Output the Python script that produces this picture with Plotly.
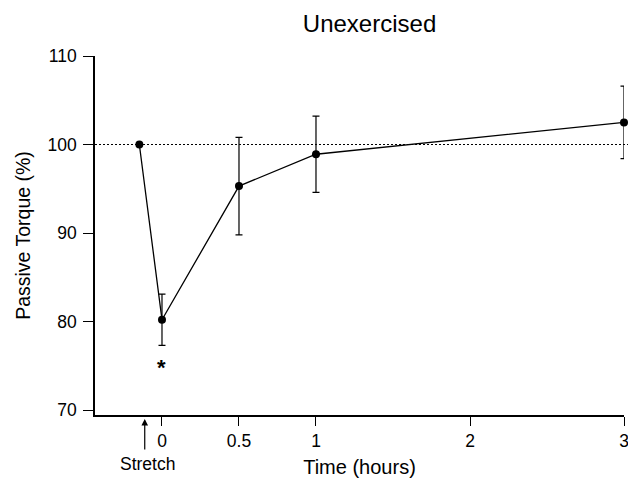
import plotly.graph_objects as go

# Data
time_h = [-0.147, 0.0, 0.5, 1.0, 3.0]
torque = [100.0, 80.2, 95.3, 98.9, 102.5]
err = [0.0, 2.9, 5.5, 4.3, 4.1]
err_visible = [False, True, True, True, True]
x_ticks = [0, 0.5, 1, 2, 3]
x_tick_text = ["0", "0.5", "1", "2", "3"]
y_ticks = [70, 80, 90, 100, 110]
baseline = 100
stretch_time = -0.112
sig_time = 0.0
sig_level = 74.8

FONT = "Liberation Sans, Arial, sans-serif"

# the page body has an 8px default margin; size the figure to fit the window
W, H = 628, 470
ML, MR, MT, MB = 87, 12, 48, 63
PH = H - MT - MB

fig = go.Figure()

# baseline dotted line
fig.add_shape(type="line", xref="paper", yref="y", x0=0, x1=1.03, y0=baseline, y1=baseline,
              line=dict(color="black", width=1.2, dash="2px,2px"), layer="below")

# error bars (only where visible)
ex = [t for t, v in zip(time_h, err_visible) if v]
ey = [y for y, v in zip(torque, err_visible) if v]
ee = [e for e, v in zip(err, err_visible) if v]
fig.add_trace(go.Scatter(x=ex, y=ey, mode="markers", marker=dict(size=1, color="rgba(0,0,0,0)"),
                         error_y=dict(type="data", array=ee, visible=True, color="black",
                                      thickness=1.2, width=3.5),
                         cliponaxis=False,
                         showlegend=False, hoverinfo="skip"))

fig.add_trace(go.Scatter(x=time_h, y=torque, mode="lines+markers",
                         line=dict(color="black", width=1.3),
                         marker=dict(size=8, color="black"),
                         cliponaxis=False,
                         showlegend=False))

fig.update_layout(
    width=W, height=H,
    margin=dict(l=ML, r=MR, t=MT, b=MB, autoexpand=False),
    paper_bgcolor="white", plot_bgcolor="white",
    font=dict(family=FONT, color="black", size=17),
    title=dict(text="Unexercised", x=0.519, xref="paper", xanchor="center",
               y=1 - 16 / H, yref="container", yanchor="middle",
               font=dict(size=24, family=FONT, color="black")),
    xaxis=dict(range=[-0.435, 3.0], tickvals=x_ticks, ticktext=x_tick_text,
               automargin=False,
               showline=True, linecolor="black", linewidth=1.5, mirror=False,
               ticks="outside", ticklen=9, tickwidth=1.2, tickcolor="black",
               showgrid=False, zeroline=False,
               tickfont=dict(size=17.5, family=FONT),
               title=dict(text="Time (hours)", font=dict(size=20, family=FONT), standoff=14)),
    yaxis=dict(range=[69.44, 110.0], tickvals=y_ticks,
               automargin=False,
               showline=True, linecolor="black", linewidth=1.5,
               ticks="outside", ticklen=10, tickwidth=1.2, tickcolor="black",
               ticklabelstandoff=3,
               showgrid=False, zeroline=False,
               tickfont=dict(size=17.5, family=FONT),
               title=dict(text="Passive Torque (%)", font=dict(size=19.5, family=FONT), standoff=12)),
)

# Stretch arrow
fig.add_annotation(x=stretch_time, xref="x", y=-4 / PH, yref="paper", text="",
                   showarrow=True, ax=0, ay=32, arrowhead=2, arrowsize=1.1, arrowwidth=1.2,
                   arrowcolor="black")
fig.add_annotation(x=stretch_time + 0.02, xref="x", y=-49 / PH, yref="paper", yanchor="middle",
                   text="Stretch", showarrow=False, font=dict(size=17.5, family=FONT))

# significance asterisk
fig.add_annotation(x=sig_time, xref="x", y=sig_level, yref="y", text="<b>*</b>",
                   showarrow=False, yanchor="middle", font=dict(size=22, family=FONT))

fig.write_html("out.html")
